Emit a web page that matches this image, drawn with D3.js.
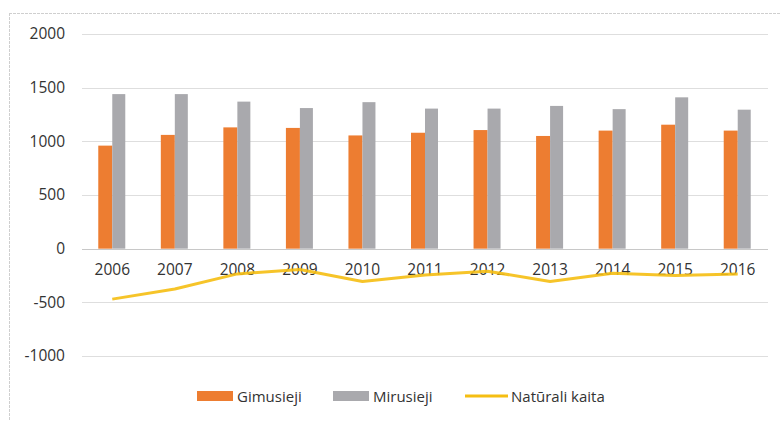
<!DOCTYPE html>
<html>
<head>
<meta charset="utf-8">
<script src="https://cdn.jsdelivr.net/npm/d3@7"></script>
<style>
  body { margin: 0; background: #fff; }
  text { font-family: "Open Sans", "Liberation Sans", sans-serif; fill: #333; }
</style>
</head>
<body>
<svg id="chart"></svg>
<script>
// values
const years = ["2006", "2007", "2008", "2009", "2010", "2011", "2012", "2013", "2014", "2015", "2016"];
const born = [960, 1060, 1130, 1125, 1055, 1080, 1105, 1050, 1100, 1155, 1100];
const died = [1440, 1440, 1370, 1310, 1365, 1305, 1305, 1330, 1300, 1410, 1295];
const natural = [-470, -375, -235, -195, -305, -245, -210, -305, -230, -250, -235];
const yTicks = [-1000, -500, 0, 500, 1000, 1500, 2000];
const seriesNames = ["Gimusieji", "Mirusieji", "Natūrali kaita"];

const width = 780, height = 421;
const orange = "#ED7D31", grey = "#A9A9AD", gold = "#F5BE12";

const svg = d3.select("#chart").attr("width", width).attr("height", height);

// outer chart border (only top and left show in the reference)
svg.append("line").attr("x1", 9).attr("x2", width).attr("y1", 13.5).attr("y2", 13.5)
  .attr("stroke", "#cfcfcf").attr("stroke-dasharray", "3,1");
svg.append("line").attr("x1", 9.5).attr("x2", 9.5).attr("y1", 13).attr("y2", height)
  .attr("stroke", "#cfcfcf").attr("stroke-dasharray", "3,1");

const x = d3.scaleBand().domain(years).range([81, 769]);
const y = d3.scaleLinear().domain([-1000, 2000]).range([356, 34]);

// grid lines
svg.selectAll(".grid")
  .data(yTicks)
  .enter()
  .append("line")
  .attr("x1", 82)
  .attr("x2", 768)
  .attr("y1", (d) => Math.round(y(d)) + 0.5)
  .attr("y2", (d) => Math.round(y(d)) + 0.5)
  .attr("stroke", (d) => (d === 0 ? "#c8c8c8" : "#dedede"));

// y axis labels (plain hyphen, no thousands separator)
const yAxis = d3.axisLeft(y).tickValues(yTicks).tickFormat((d) => String(d)).tickSize(0).tickPadding(0);
svg.append("g")
  .attr("transform", "translate(65,0)")
  .call(yAxis)
  .call((g) => g.select(".domain").remove())
  .call((g) => g.selectAll("text")
    .attr("font-size", 15.5)
    .attr("font-family", "'Open Sans', sans-serif")
    .attr("fill", "#333"));

// bars
const barW = 14;
svg.selectAll(".born")
  .data(years)
  .enter()
  .append("rect")
  .attr("x", (d) => x(d) + x.bandwidth() / 2 - barW)
  .attr("y", (d, i) => y(born[i]))
  .attr("width", barW)
  .attr("height", (d, i) => y(0) - y(born[i]))
  .attr("fill", orange);

svg.selectAll(".died")
  .data(years)
  .enter()
  .append("rect")
  .attr("x", (d) => x(d) + x.bandwidth() / 2)
  .attr("y", (d, i) => y(died[i]))
  .attr("width", barW - 1)
  .attr("height", (d, i) => y(0) - y(died[i]))
  .attr("fill", grey);

// category labels sit just below zero line
const xAxis = d3.axisBottom(x).tickSize(0).tickPadding(0);
svg.append("g")
  .attr("transform", "translate(0,264)")
  .call(xAxis)
  .call((g) => g.select(".domain").remove())
  .call((g) => g.selectAll("text")
    .attr("font-size", 15.5)
    .attr("font-family", "'Open Sans', sans-serif")
    .attr("fill", "#333"));

// natural change line (drawn over labels, as in the reference)
const line = d3.line()
  .x((d, i) => x(years[i]) + x.bandwidth() / 2)
  .y((d) => y(d));
svg.append("path")
  .datum(natural)
  .attr("d", line)
  .attr("fill", "none")
  .attr("stroke", gold)
  .attr("stroke-width", 3)
  .attr("stroke-linejoin", "round")
  .attr("opacity", 0.9);

// legend
const legend = svg.append("g").attr("transform", "translate(0,396)");
const legendX = [197, 333, 465];
const legendColors = [orange, grey, gold];

legend.selectAll("rect")
  .data([0, 1])
  .enter()
  .append("rect")
  .attr("x", (d) => legendX[d])
  .attr("y", -5)
  .attr("width", 36)
  .attr("height", 10)
  .attr("fill", (d) => legendColors[d]);

legend.append("line")
  .attr("x1", legendX[2])
  .attr("x2", legendX[2] + 43)
  .attr("y1", 0)
  .attr("y2", 0)
  .attr("stroke", gold)
  .attr("stroke-width", 3);

legend.selectAll("text")
  .data(seriesNames)
  .enter()
  .append("text")
  .attr("x", (d, i) => (i < 2 ? legendX[i] + 40 : legendX[i] + 46))
  .attr("y", 5.5)
  .attr("font-size", 15)
  .text((d) => d);
</script>
</body>
</html>
